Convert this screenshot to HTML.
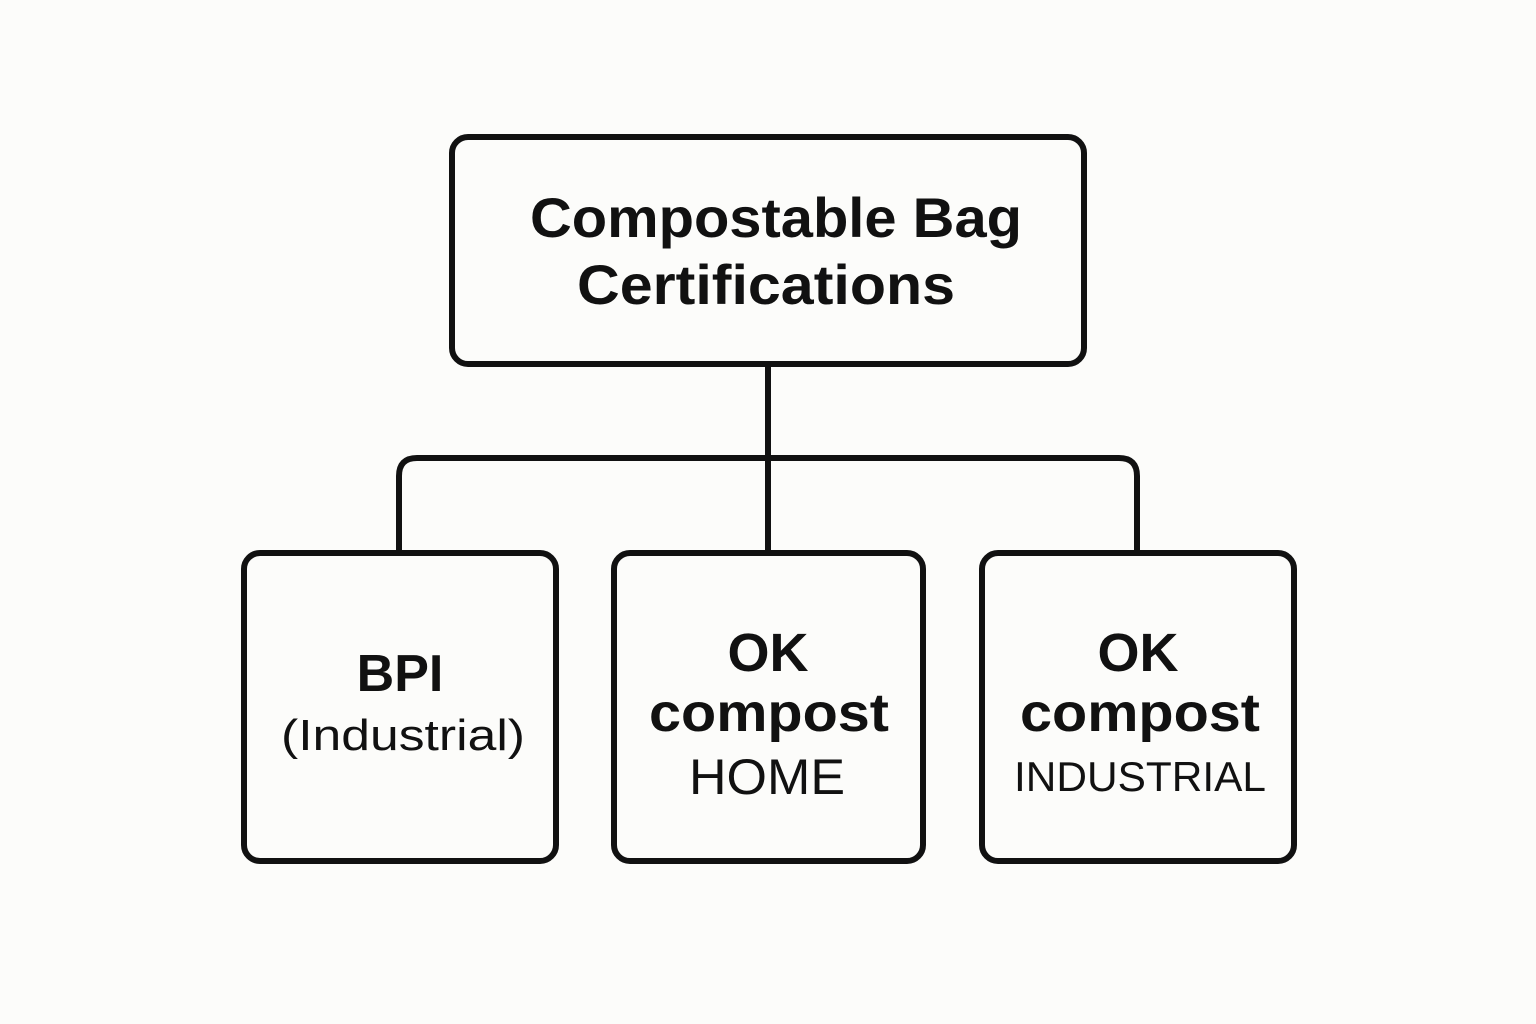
<!DOCTYPE html>
<html><head><meta charset="utf-8"><style>
html,body{margin:0;padding:0;background:#fcfcfa;}
svg{display:block}
text{font-family:"Liberation Sans",sans-serif;fill:#111;text-anchor:middle}
</style></head><body>
<svg width="1536" height="1024" viewBox="0 0 1536 1024">
<rect width="1536" height="1024" fill="#fcfcfa"/>
<g fill="none" stroke="#111" stroke-width="6">
<rect x="452" y="137" width="632" height="227" rx="16"/>
<line x1="768" y1="364" x2="768" y2="552"/>
<path d="M399 552 V476 Q399 458 417 458 H1119 Q1137 458 1137 476 V552"/>
<rect x="244" y="553" width="312" height="308" rx="16"/>
<rect x="614" y="553" width="309" height="308" rx="16"/>
<rect x="982" y="553" width="312" height="308" rx="16"/>
</g>
<text x="776" y="237" font-size="56" font-weight="bold" textLength="492" lengthAdjust="spacingAndGlyphs">Compostable Bag</text>
<text x="766" y="304" font-size="56" font-weight="bold" textLength="378" lengthAdjust="spacingAndGlyphs">Certifications</text>
<text x="400" y="691" font-size="52" font-weight="bold">BPI</text>
<text x="403" y="750" font-size="44" textLength="244" lengthAdjust="spacingAndGlyphs">(Industrial)</text>
<text x="768" y="671" font-size="54" font-weight="bold">OK</text>
<text x="769" y="731" font-size="54" font-weight="bold" textLength="240" lengthAdjust="spacingAndGlyphs">compost</text>
<text x="767" y="794" font-size="50" textLength="156" lengthAdjust="spacingAndGlyphs">HOME</text>
<text x="1138" y="671" font-size="54" font-weight="bold">OK</text>
<text x="1140" y="731" font-size="54" font-weight="bold" textLength="240" lengthAdjust="spacingAndGlyphs">compost</text>
<text x="1140" y="791" font-size="42" textLength="252" lengthAdjust="spacingAndGlyphs">INDUSTRIAL</text>
</svg>
</body></html>
